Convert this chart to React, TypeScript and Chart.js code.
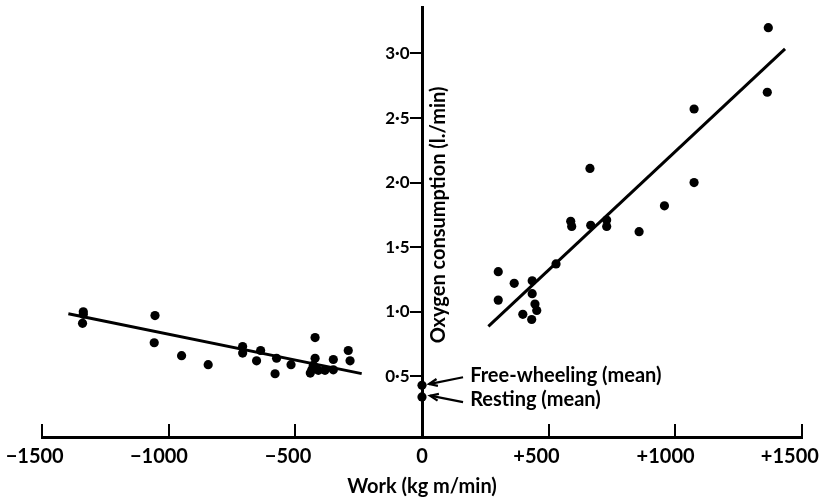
import React, { useEffect, useRef } from 'react';
import { Chart, registerables } from 'chart.js';

Chart.register(...registerables);

const FONT = 'Lato, "Open Sans", sans-serif';

// Negative work (lowering) points
const leftWork = [-1337, -1337, -1340, -1054, -1057, -949, -844, -708, -708, -637, -653, -574, -580, -517, -422, -422, -429, -435, -441, -409, -383, -350, -350, -291, -284];
const leftO2 = [1.0, 0.98, 0.91, 0.97, 0.76, 0.66, 0.59, 0.73, 0.68, 0.7, 0.62, 0.64, 0.52, 0.59, 0.8, 0.64, 0.585, 0.55, 0.525, 0.546, 0.546, 0.63, 0.55, 0.7, 0.62];

// Positive work points
const rightWork = [301, 301, 364, 435, 435, 446, 453, 398, 433, 529, 587, 591, 666, 663, 729, 729, 857, 957, 1074, 1074, 1363, 1367];
const rightO2 = [1.31, 1.09, 1.22, 1.24, 1.14, 1.06, 1.01, 0.98, 0.94, 1.37, 1.7, 1.66, 1.67, 2.11, 1.71, 1.66, 1.62, 1.82, 2.57, 2.0, 2.7, 3.2];

// Mean values at zero work
const freeWheelingWork = [0];
const freeWheelingO2 = [0.43];
const restingWork = [0];
const restingO2 = [0.34];

// Fitted lines
const leftFitWork = [-1396, -238];
const leftFitO2 = [0.985, 0.521];
const rightFitWork = [262, 1433];
const rightFitO2 = [0.887, 3.036];

// Ticks
const xTickValues = [-1500, -1000, -500, 0, 500, 1000, 1500];
const xTickLabels = ['\u22121500', '\u22121000', '\u2212500', '0', '+500', '+1000', '+1500'];
// signed labels sit a little left of their tick in the original; trailing spaces reproduce that
const xTickTrail = [3, 4, 3, 0, 5, 4, 5];
const yTickValues = [0.5, 1.0, 1.5, 2.0, 2.5, 3.0];
const yTickLabels = ['0\u00b75', '1\u00b70', '1\u00b75', '2\u00b70', '2\u00b75', '3\u00b70'];

const xTitle = 'Work (kg m/min)';
const yTitle = 'Oxygen consumption (l./min)';

const annotations = [
  { text: 'Free-wheeling (mean)', textX: 190, textY: 0.508, tailX: 162, tailY: 0.493, headX: 28, headY: 0.44 },
  { text: 'Resting (mean)', textX: 190, textY: 0.322, tailX: 162, tailY: 0.3, headX: 32, headY: 0.35 },
];

const pts = (xs: number[], ys: number[]) => xs.map((x, i) => ({ x, y: ys[i] }));

const annotPlugin = {
  id: 'annot',
  afterDraw(chart: any) {
    const { ctx, scales } = chart;
    const xs = scales.x;
    const ys = scales.y;
    ctx.save();
    ctx.fillStyle = '#000';
    ctx.strokeStyle = '#000';
    // y title, to the right of the axis line
    ctx.save();
    ctx.translate(xs.getPixelForValue(0) + 17, ys.getPixelForValue(1.75));
    ctx.rotate(-Math.PI / 2);
    ctx.font = `bold 20px ${FONT}`;
    ctx.textAlign = 'center';
    ctx.textBaseline = 'middle';
    ctx.fillText(yTitle, 0, 0);
    ctx.restore();
    // annotations
    ctx.font = `bold 20px ${FONT}`;
    ctx.textAlign = 'left';
    ctx.textBaseline = 'middle';
    for (const a of annotations) {
      ctx.fillText(a.text, xs.getPixelForValue(a.textX), ys.getPixelForValue(a.textY));
      const x1 = xs.getPixelForValue(a.tailX);
      const y1 = ys.getPixelForValue(a.tailY);
      const x2 = xs.getPixelForValue(a.headX);
      const y2 = ys.getPixelForValue(a.headY);
      ctx.lineWidth = 2.2;
      ctx.beginPath();
      ctx.moveTo(x1, y1);
      ctx.lineTo(x2, y2);
      ctx.stroke();
      const ang = Math.atan2(y2 - y1, x2 - x1);
      const L = 9;
      ctx.beginPath();
      ctx.moveTo(x2 - L * Math.cos(ang - 0.4), y2 - L * Math.sin(ang - 0.4));
      ctx.lineTo(x2, y2);
      ctx.lineTo(x2 - L * Math.cos(ang + 0.4), y2 - L * Math.sin(ang + 0.4));
      ctx.stroke();
    }
    ctx.restore();
  },
};

export default function App() {
  const ref = useRef<HTMLCanvasElement>(null);
  useEffect(() => {
    const dot = { pointRadius: 4.6, pointBackgroundColor: '#000', pointBorderWidth: 0, showLine: false };
    const line = { type: 'line' as const, showLine: true, pointRadius: 0, borderColor: '#000', borderWidth: 3, fill: false };
    const chart = new Chart(ref.current!, {
      type: 'scatter',
      data: {
        datasets: [
          { ...dot, data: pts(leftWork, leftO2) },
          { ...dot, data: pts(rightWork, rightO2) },
          { ...dot, data: pts(freeWheelingWork, freeWheelingO2) },
          { ...dot, data: pts(restingWork, restingO2) },
          { ...line, data: pts(leftFitWork, leftFitO2) },
          { ...line, data: pts(rightFitWork, rightFitO2) },
        ] as any,
      },
      options: {
        animation: false,
        responsive: false,
        layout: { padding: { left: 42, right: 26, top: 7, bottom: 0 } },
        plugins: { legend: { display: false }, tooltip: { enabled: false } },
        scales: {
          x: {
            type: 'linear',
            min: -1500,
            max: 1500,
            position: 'bottom',
            afterBuildTicks: (s: any) => { s.ticks = xTickValues.map((v) => ({ value: v })); },
            afterFit: (s: any) => { s.height = 64; s.paddingLeft = 0; s.paddingRight = 0; },
            ticks: {
              callback: (v: any) => {
                const i = xTickValues.indexOf(Number(v));
                return i < 0 ? '' : xTickLabels[i] + ' '.repeat(xTickTrail[i]);
              },
              font: { family: FONT, size: 20, weight: 'bold' as any },
              color: '#000',
              padding: 21,
              maxRotation: 0,
              autoSkip: false,
            },
            grid: { drawOnChartArea: false, drawTicks: true, tickLength: -13, color: '#000', lineWidth: 2 },
            border: { display: true, color: '#000', width: 3 },
            title: { display: true, text: xTitle, color: '#000', font: { family: FONT, size: 20, weight: 'bold' as any }, padding: { top: 0, bottom: 2 } },
          },
          y: {
            type: 'linear',
            min: 0.03,
            max: 3.36,
            position: { x: 0 } as any,
            afterBuildTicks: (s: any) => { s.ticks = yTickValues.map((v) => ({ value: v })); },
            afterFit: (s: any) => { s.paddingTop = 0; s.paddingBottom = 0; },
            ticks: {
              // trailing spaces keep the label clear of the tick mark on the centred axis
              callback: (v: any) => (yTickLabels[yTickValues.indexOf(Number(v))] ?? '') + '   ',
              font: { family: FONT, size: 17, weight: 'bold' as any },
              color: '#000',
              padding: 2,
              autoSkip: false,
            },
            grid: { drawOnChartArea: false, drawTicks: true, tickLength: 11, color: '#000', lineWidth: 2 },
            border: { display: true, color: '#000', width: 3 },
          },
        },
      },
      plugins: [annotPlugin],
    });
    return () => chart.destroy();
  }, []);
  return (
    <div style={{ position: 'absolute', left: 0, top: 0, width: 828, height: 501, background: '#fff' }}>
      <canvas ref={ref} width={828} height={501} />
    </div>
  );
}
